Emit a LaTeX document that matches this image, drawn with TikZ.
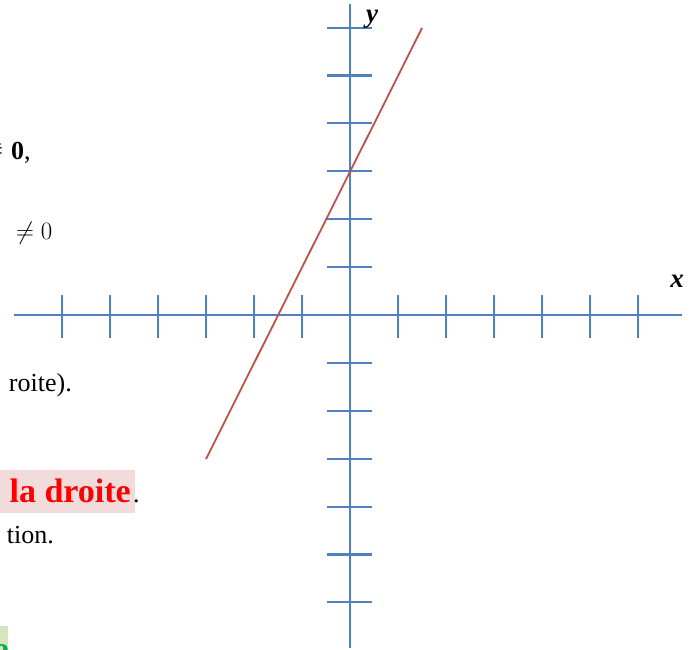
\documentclass[tikz,border=0pt]{standalone}
\usepackage{fontspec}
\setmainfont{Liberation Serif}
\definecolor{axisblue}{HTML}{4F81BD}
\definecolor{linered}{HTML}{C0504D}
\definecolor{hlpink}{HTML}{F2DCDB}
\definecolor{hlgreen}{HTML}{D7E4BC}
\definecolor{txtgreen}{HTML}{00B050}
\begin{document}
\begin{tikzpicture}[x=1pt,y=-1pt,
  axisline/.style={line width=2.4pt, draw=axisblue},
  tickline/.style={line width=2.1pt, draw=axisblue},
  graphline/.style={line width=1.8pt, draw=linered},
  body/.style={inner sep=0pt, font=\fontsize{26pt}{30pt}\selectfont},
  bigred/.style={inner sep=0pt, text=red, font=\fontsize{34pt}{38pt}\selectfont\bfseries},
  axlabel/.style={inner sep=0pt, font=\fontsize{27pt}{30pt}\selectfont\bfseries\itshape}]
\useasboundingbox (0,0) rectangle (696,650);
\fill[white] (0,0) rectangle (696,650);
% highlights
\fill[hlpink] (0,470) rectangle (135,513);
\fill[hlgreen] (0,626) rectangle (8,650);
% left text fragments
\node[body, anchor=base east] (neqa) at (3,160) {≠};
\node[body, anchor=base west] (zero) at (11,160) {\textbf{0},};
\node[inner sep=0pt, anchor=base west, font=\fontsize{31pt}{34pt}\selectfont] (neqb) at (16,239) {$\neq 0$};
\node[body, anchor=base east] (roite) at (72,391) {roite).};
\node[bigred, anchor=base east] (droite) at (131,502) {la droite};
\node[body, anchor=base west] (dot) at (133,502) {.};
\node[body, anchor=base east] (tion) at (54,543) {tion.};
\node[inner sep=0pt, anchor=base east, text=txtgreen, font=\fontsize{34pt}{38pt}\selectfont\bfseries] (green) at (9,660) {e};
% axes
\coordinate (O) at (350,315);
\coordinate (xl) at (14,315);
\coordinate (xr) at (682,315);
\coordinate (yt) at (350,4);
\coordinate (yb) at (350,648);
\draw[axisline] (xl) -- (xr);
\draw[axisline] (yt) -- (yb);
\foreach \i in {-6,...,-1,1,2,3,4,5,6} {
  \draw[tickline] ([shift={(48*\i,-20)}]O) -- ([shift={(48*\i,23)}]O);
  \draw[tickline] ([shift={(-23,-47.9*\i)}]O) -- ([shift={(22,-47.9*\i)}]O);
}
% line
\coordinate (p1) at (206,459);
\coordinate (p2) at (422,28);
\draw[graphline] (p1) -- (p2);
% labels
\node[axlabel] (ylab) at (372,19) {y};
\node[axlabel] (xlab) at (677,281) {x};
\end{tikzpicture}
\end{document}
